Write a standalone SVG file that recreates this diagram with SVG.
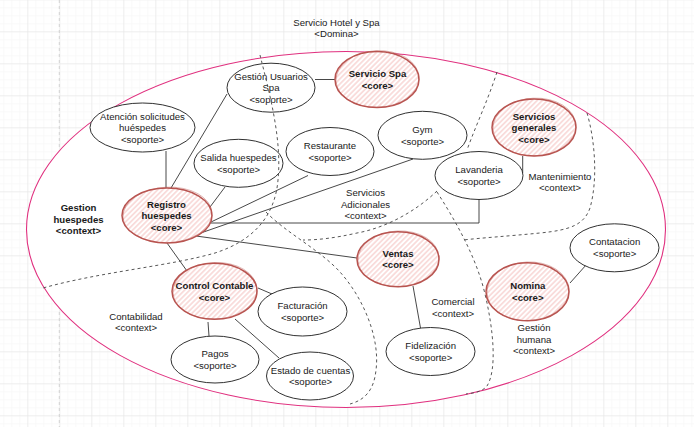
<svg xmlns="http://www.w3.org/2000/svg" width="694" height="427" viewBox="0 0 694 427">
<defs>
<pattern id="minor" x="3.3" y="-0.7" width="8" height="8" patternUnits="userSpaceOnUse">
<path d="M0,0 H8 M0,0 V8" fill="none" stroke="#f3f3f3" stroke-width="1"/>
</pattern>
<pattern id="major" x="27.3" y="31.3" width="32" height="32" patternUnits="userSpaceOnUse">
<path d="M0,0 H32 M0,0 V32" fill="none" stroke="#e3e3e3" stroke-width="1"/>
</pattern>
<pattern id="hatch" width="3.6" height="3.6" patternUnits="userSpaceOnUse" patternTransform="rotate(45)">
<rect width="3.6" height="3.6" fill="#ffffff"/>
<line x1="0.9" y1="0" x2="0.9" y2="3.6" stroke="#f6c6c4" stroke-width="1.1"/>
</pattern>
<style>
text{font-family:"Liberation Sans",Arial,sans-serif;font-size:9.6px;fill:#1a1a1a;text-anchor:middle}
.b{font-weight:bold}
.sup{fill:#ffffff;stroke:#1a1a1a;stroke-width:0.9}
.core{fill:url(#hatch);stroke:#b85450;stroke-width:1.5}
.core2{fill:none;stroke:#b85450;stroke-width:0.6;opacity:0.7}
.con{fill:none;stroke:#333333;stroke-width:0.9}
.dash{fill:none;stroke:#444444;stroke-width:0.9;stroke-dasharray:3,3}
</style>
</defs>
<rect width="694" height="427" fill="#ffffff"/>
<rect width="694" height="427" fill="url(#minor)"/>
<rect width="694" height="427" fill="url(#major)"/>
<line x1="59.3" y1="0" x2="59.3" y2="427" stroke="#d3d3d3" stroke-width="1" stroke-dasharray="3,3"/>

<g id="domain">
<ellipse cx="346" cy="229.5" rx="319.5" ry="178" fill="#ffffff" stroke="#e0307f" stroke-width="1.1"/>
<text x="336.5" y="25.5">Servicio Hotel y Spa</text>
<text x="336.5" y="37">&lt;Domina&gt;</text>
</g>

<g id="boundaries">
<path class="dash" d="M497,72 C488,100 476,125 467,150"/>
<path class="dash" d="M437,191 C415,212 385,228 357,233 C335,238 318,240 303,240"/>
<path class="dash" d="M437,192 C455,220 475,255 484,290 C494,330 497,370 487,386 C482,392 474,393 466,394"/>
<path class="dash" d="M587,113 C595,140 598,180 590,208 C584,225 570,230 540,233 C510,236 480,238 463,240"/>
</g>

<g id="connectors">
<path class="con" d="M166,151 L166,188"/>
<path class="con" d="M227,94 L171,188"/>
<path class="con" d="M315,79.5 L335.5,79.5"/>
<path class="con" d="M225,187 L210,207"/>
<path class="con" d="M308,175.5 L211,222"/>
<path class="con" d="M413,159 L195,235"/>
<path class="con" d="M479,199.5 L479,223 L210,223"/>
<path class="con" d="M196,236 L357,258"/>
<path class="con" d="M167,243 L187,271"/>
<path class="con" d="M258,288 L272,294"/>
<path class="con" d="M208,322 L209,336"/>
<path class="con" d="M235,319 L279,358"/>
<path class="con" d="M413,286 L420.5,328"/>
<path class="con" d="M522.7,156 L522.7,173"/>
<path class="con" d="M570,283 L586.5,264.5"/>
</g>

<g id="gestion-usuarios-spa">
<ellipse class="sup" cx="271" cy="87.7" rx="44" ry="24.5"/>
<text x="271" y="79.7">Gestión Usuarios</text>
<text x="271" y="91.2">Spa</text>
<text x="271" y="102.7">&lt;soporte&gt;</text>
</g>
<g id="servicio-spa">
<ellipse class="core" cx="377" cy="79.5" rx="42" ry="28"/>
<ellipse class="core2" cx="377.5" cy="79" rx="41.5" ry="28.3" transform="rotate(-3 377 79.5)"/>
<text class="b" x="377.5" y="77.2">Servicio Spa</text>
<text class="b" x="377.5" y="88.7">&lt;core&gt;</text>
</g>
<g id="atencion">
<ellipse class="sup" cx="142.5" cy="127.5" rx="52.5" ry="24.5"/>
<text x="142.5" y="119.5">Atención solicitudes</text>
<text x="142.5" y="131">huéspedes</text>
<text x="142.5" y="142.5">&lt;soporte&gt;</text>
</g>
<g id="salida-huespedes">
<ellipse class="sup" cx="238.5" cy="163.3" rx="44.5" ry="24"/>
<text x="238.5" y="161">Salida huespedes</text>
<text x="238.5" y="172.5">&lt;soporte&gt;</text>
</g>
<g id="restaurante">
<ellipse class="sup" cx="330" cy="151.5" rx="44" ry="24"/>
<text x="330" y="149.2">Restaurante</text>
<text x="330" y="160.7">&lt;soporte&gt;</text>
</g>
<g id="gym">
<ellipse class="sup" cx="422.5" cy="135.3" rx="44.5" ry="24"/>
<text x="422.5" y="133">Gym</text>
<text x="422.5" y="144.5">&lt;soporte&gt;</text>
</g>
<g id="servicios-generales">
<ellipse class="core" cx="534" cy="127.5" rx="42" ry="28.5"/>
<ellipse class="core2" cx="534.5" cy="127" rx="41.5" ry="28.8" transform="rotate(-3 534 127.5)"/>
<text class="b" x="534" y="119.5">Servicios</text>
<text class="b" x="534" y="131">generales</text>
<text class="b" x="534" y="142.5">&lt;core&gt;</text>
</g>
<g id="lavanderia">
<ellipse class="sup" cx="479" cy="175.5" rx="44" ry="24"/>
<text x="479" y="173.2">Lavanderia</text>
<text x="479" y="184.7">&lt;soporte&gt;</text>
</g>
<g id="registro-huespedes">
<ellipse class="core" cx="167" cy="215.5" rx="45" ry="27.5"/>
<ellipse class="core2" cx="167.5" cy="215" rx="44.5" ry="27.8" transform="rotate(-3 167 215.5)"/>
<text class="b" x="166.5" y="207.5">Registro</text>
<text class="b" x="166.5" y="219">huespedes</text>
<text class="b" x="166.5" y="230.5">&lt;core&gt;</text>
</g>
<g id="control-contable">
<ellipse class="core" cx="214.5" cy="291.3" rx="42.5" ry="28"/>
<ellipse class="core2" cx="215" cy="290.8" rx="42" ry="28.3" transform="rotate(-3 214.5 291.3)"/>
<text class="b" x="214.5" y="289">Control Contable</text>
<text class="b" x="214.5" y="300.5">&lt;core&gt;</text>
</g>
<g id="facturacion">
<ellipse class="sup" cx="302.5" cy="311.5" rx="44.5" ry="24.5"/>
<text x="302.5" y="309.2">Facturación</text>
<text x="302.5" y="320.7">&lt;soporte&gt;</text>
</g>
<g id="pagos">
<ellipse class="sup" cx="215" cy="359.5" rx="44" ry="23.5"/>
<text x="215" y="357.2">Pagos</text>
<text x="215" y="368.7">&lt;soporte&gt;</text>
</g>
<g id="estado-cuentas">
<ellipse class="sup" cx="310" cy="376" rx="43.5" ry="24"/>
<text x="310.5" y="373.5">Estado de cuentas</text>
<text x="310.5" y="385">&lt;soporte&gt;</text>
</g>
<g id="ventas">
<ellipse class="core" cx="398" cy="259.3" rx="41" ry="27.5"/>
<ellipse class="core2" cx="398.5" cy="258.8" rx="40.5" ry="27.8" transform="rotate(-3 398 259.3)"/>
<text class="b" x="398" y="256.8">Ventas</text>
<text class="b" x="398" y="268.3">&lt;core&gt;</text>
</g>
<g id="fidelizacion">
<ellipse class="sup" cx="430.5" cy="351.5" rx="44.5" ry="24"/>
<text x="430.7" y="349">Fidelización</text>
<text x="430.7" y="360.5">&lt;soporte&gt;</text>
</g>
<g id="nomina">
<ellipse class="core" cx="527.5" cy="291.8" rx="41.5" ry="29"/>
<ellipse class="core2" cx="528" cy="291.3" rx="41" ry="29.3" transform="rotate(-3 527.5 291.8)"/>
<text class="b" x="527.8" y="289.2">Nomina</text>
<text class="b" x="527.8" y="300.7">&lt;core&gt;</text>
</g>
<g id="contatacion">
<ellipse class="sup" cx="614.5" cy="247.8" rx="44.5" ry="24"/>
<text x="614.7" y="245.2">Contatacion</text>
<text x="614.7" y="256.7">&lt;soporte&gt;</text>
</g>

<g id="boundaries-top">
<path class="dash" d="M260,55 C270,95 282,140 278,180 C275,215 255,240 215,253 C170,266 100,272 43,288"/>
<path class="dash" d="M266,212 C285,232 320,250 340,272 C365,300 380,340 376,370 C374,390 365,400 350,404"/>
</g>

<g id="context-labels">
<text class="b" x="78.5" y="211.2">Gestion</text>
<text class="b" x="78.5" y="222.8">huespedes</text>
<text class="b" x="78.5" y="234.3">&lt;context&gt;</text>
<text x="365.5" y="196">Servicios</text>
<text x="365.5" y="207.5">Adicionales</text>
<text x="365.5" y="219">&lt;context&gt;</text>
<text x="560" y="179.5">Mantenimiento</text>
<text x="560" y="191">&lt;context&gt;</text>
<text x="136" y="319.5">Contabilidad</text>
<text x="136" y="331">&lt;context&gt;</text>
<text x="453" y="305">Comercial</text>
<text x="453" y="316.5">&lt;context&gt;</text>
<text x="534" y="331">Gestión</text>
<text x="534" y="342.8">humana</text>
<text x="534" y="354.3">&lt;context&gt;</text>
</g>
</svg>
